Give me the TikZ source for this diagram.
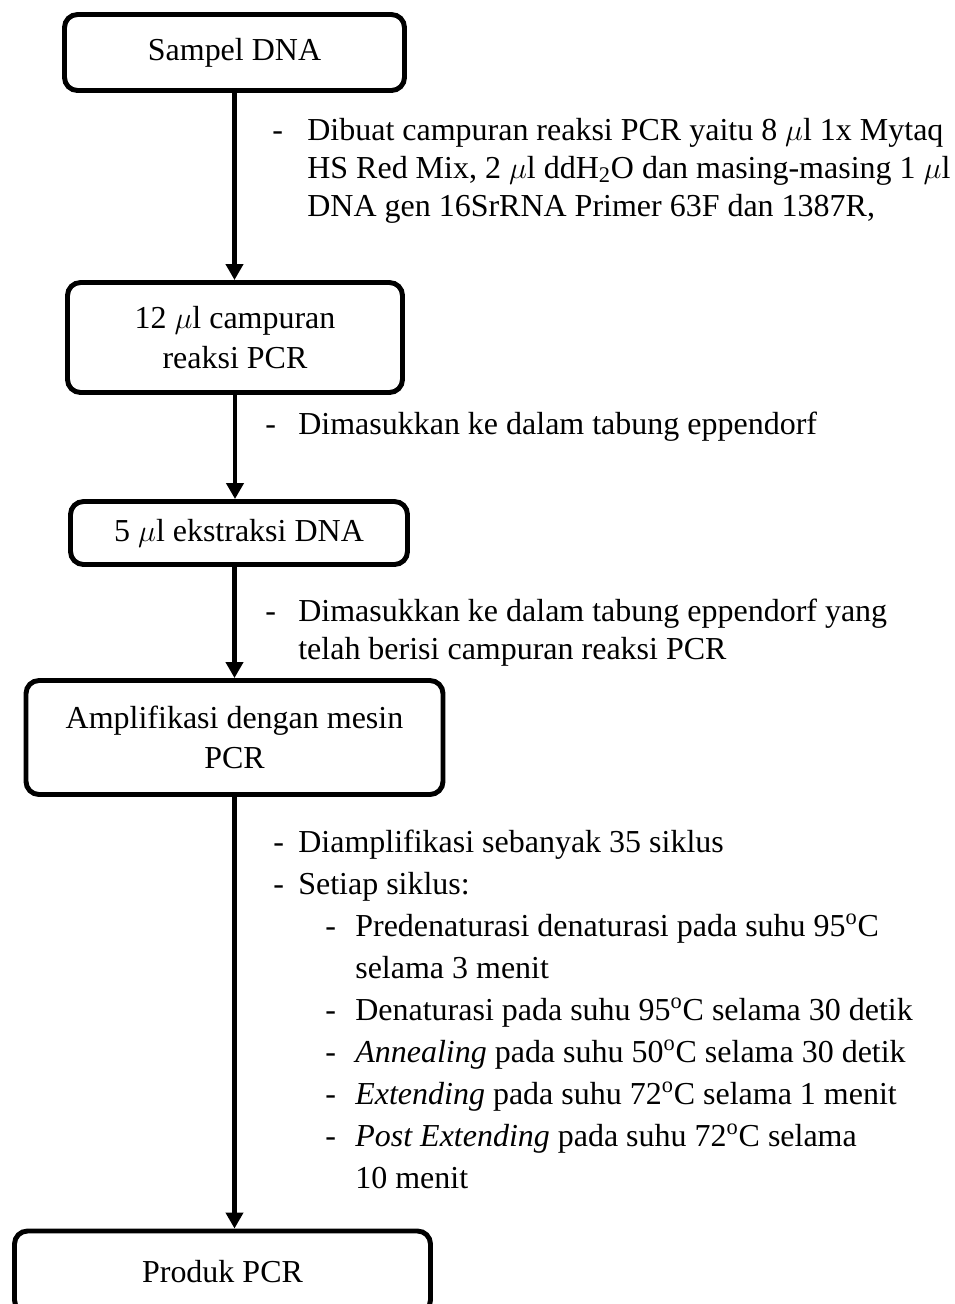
\documentclass[tikz,border=0pt]{standalone}
\usepackage{fontspec}
\setmainfont{Liberation Serif}
\usepackage{tikz}
\usetikzlibrary{arrows.meta,positioning}

\begin{document}
\begin{tikzpicture}[
  every node/.style={font=\fontsize{18.2}{22.8}\selectfont},
  stepbox/.style={draw=black, line width=2.8pt, rounded corners=0.26cm, align=center, inner sep=0pt},
  note/.style={anchor=base west, inner sep=0pt, font=\fontsize{18.2}{21.8}\selectfont},
  flow/.style={line width=2.8pt, -{Triangle[width=0.34cm,length=0.32cm]}}
]
\useasboundingbox (0,0) rectangle (19.1,-26.08);

\node[stepbox, minimum width=6.8cm, minimum height=1.52cm] (sampel) at (4.69,-1.05) {Sampel DNA};
\node[stepbox, minimum width=6.7cm, minimum height=2.2cm] (campuran) at (4.70,-6.75) {12 $\mu$l campuran\\reaksi PCR};
\node[stepbox, minimum width=6.74cm, minimum height=1.26cm] (ekstrak) at (4.78,-10.66) {5 $\mu$l ekstraksi DNA};
\node[stepbox, minimum width=8.34cm, minimum height=2.28cm] (amplif) at (4.69,-14.75) {Amplifikasi dengan mesin\\PCR};
\node[stepbox, minimum width=8.32cm, minimum height=1.64cm] (produk) at (4.45,-25.44) {Produk PCR};

\node[note] (buat) at (5.44,-2.80) {\begin{tabular}[t]{@{}p{0.7cm}@{}l@{}}
- & Dibuat campuran reaksi PCR yaitu 8 $\mu$l 1x Mytaq\\
  & HS Red Mix, 2 $\mu$l ddH\textsubscript{2}O dan masing-masing 1 $\mu$l\\
  & DNA gen 16SrRNA Primer 63F dan 1387R,
\end{tabular}};
\node[note] (masuk) at (5.30,-8.68) {\begin{tabular}[t]{@{}p{0.66cm}@{}l@{}}
- & Dimasukkan ke dalam tabung eppendorf
\end{tabular}};
\node[note] (isi) at (5.30,-12.42) {\begin{tabular}[t]{@{}p{0.66cm}@{}l@{}}
- & Dimasukkan ke dalam tabung eppendorf yang\\
  & telah berisi campuran reaksi PCR
\end{tabular}};
\node[note, font=\fontsize{18.2}{23.9}\selectfont] (siklus) at (5.46,-17.04) {\begin{tabular}[t]{@{}p{0.5cm}@{}p{0.54cm}@{}p{0.6cm}@{}l@{}}
- & \multicolumn{3}{@{}l@{}}{Diamplifikasi sebanyak 35 siklus}\\
- & \multicolumn{3}{@{}l@{}}{Setiap siklus:}\\
  & & - & Predenaturasi denaturasi pada suhu 95\textsuperscript{o}C\\
  & &   & selama 3 menit\\
  & & - & Denaturasi pada suhu 95\textsuperscript{o}C selama 30 detik\\
  & & - & \textit{Annealing} pada suhu 50\textsuperscript{o}C selama 30 detik\\
  & & - & \textit{Extending} pada suhu 72\textsuperscript{o}C selama 1 menit\\
  & & - & \textit{Post Extending} pada suhu 72\textsuperscript{o}C selama\\
  & &   & 10 menit
\end{tabular}};

\draw[flow] (sampel.south) -- (sampel.south |- campuran.north);
\draw[flow] (campuran.south) -- (campuran.south |- ekstrak.north);
\draw[flow] (amplif.north |- ekstrak.south) -- (amplif.north);
\draw[flow] (amplif.south) -- (amplif.south |- produk.north);
\end{tikzpicture}
\end{document}
